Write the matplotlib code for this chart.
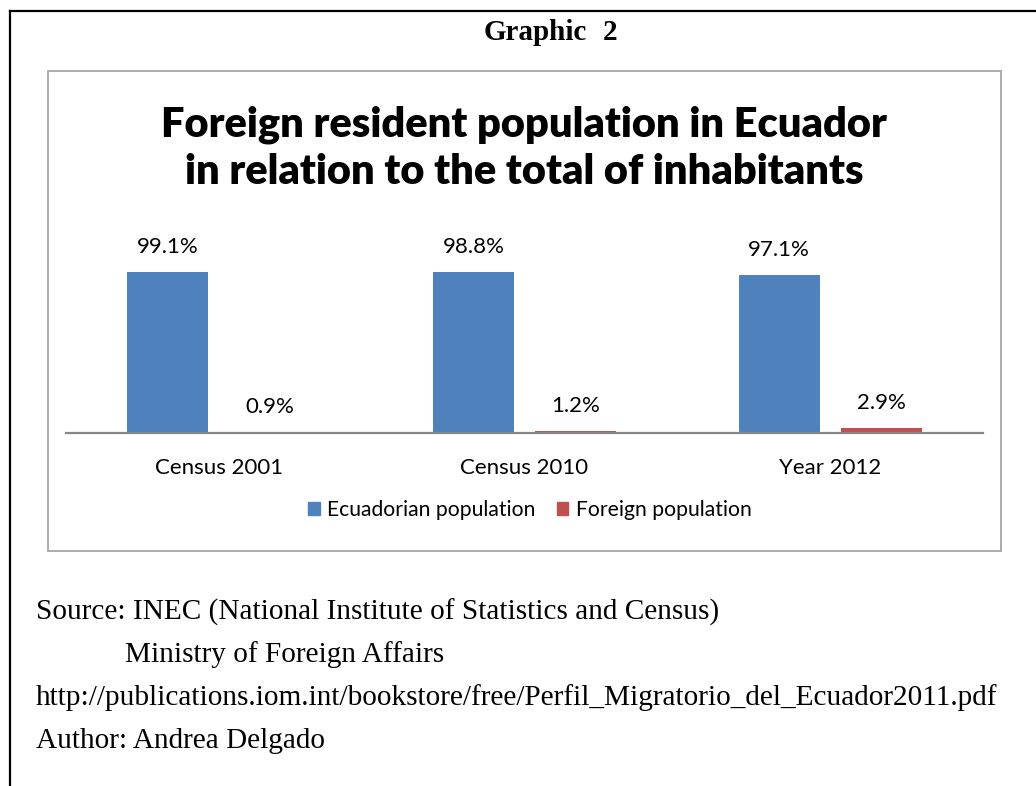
import matplotlib.pyplot as plt
from matplotlib.patches import Rectangle
from matplotlib.lines import Line2D
import numpy as np

# Data
categories = ['Census 2001', 'Census 2010', 'Year 2012']
ecuadorian = [99.1, 98.8, 97.1]
foreign = [0.9, 1.2, 2.9]
series_names = ['Ecuadorian population', 'Foreign population']
colors = ['#4F81BD', '#C0504D']

title = 'Foreign resident population in Ecuador\nin relation to the total of inhabitants'
source_lines = [
    'Source: INEC (National Institute of Statistics and Census)',
    'Ministry of Foreign Affairs',
    'http://publications.iom.int/bookstore/free/Perfil_Migratorio_del_Ecuador2011.pdf',
    'Author: Andrea Delgado',
]

W, H = 1036, 786
fig = plt.figure(figsize=(W / 100, H / 100), dpi=100)
fig.patch.set_facecolor('white')

sans = 'Lato'
serif = 'Liberation Serif'


def fx(px):
    return px / W


def fy(py):
    return 1 - py / H


# page border (left and top rule)
fig.add_artist(Line2D([fx(10), fx(10)], [fy(11), 0], color='black', lw=1.6))
fig.add_artist(Line2D([fx(10), 1], [fy(11), fy(11)], color='black', lw=1.6))

# chart frame
fig.add_artist(Rectangle((fx(48), fy(551)), fx(1001) - fx(48), fy(71) - fy(551),
                         fill=False, edgecolor='#a6a6a6', lw=1.3))

fig.text(fx(535), fy(33), 'Graphic', family=serif, weight='bold',
         fontsize=21, ha='center', va='center')
fig.text(fx(610), fy(33), '2', family=serif, weight='bold',
         fontsize=21, ha='center', va='center')

fig.text(fx(524), fy(148), title, family=sans, weight='heavy', fontsize=30,
         ha='center', va='center', linespacing=1.3)

# bars
x0, x1 = 66, 983
base = 433
px_per_unit = 161 / 99.1
ax_h = 200
ax = fig.add_axes([fx(x0), fy(base), fx(x1) - fx(x0), ax_h / H])
ax.set_xlim(0, 3)
ax.set_ylim(0, ax_h / px_per_unit)
ax.axis('off')

x = np.arange(len(categories)) + 0.5
bw = 0.265
off = 0.167
for vals, color, sign in [(ecuadorian, colors[0], -1), (foreign, colors[1], 1)]:
    bars = ax.bar(x + sign * off, vals, width=bw, color=color, clip_on=False)
    for b, v in zip(bars, vals):
        ax.annotate(f'{v:.1f}%', (b.get_x() + b.get_width() / 2, v),
                    xytext=(0, 18), textcoords='offset points',
                    ha='center', va='center', family=sans, fontsize=16)

ax.add_line(Line2D([0, 3], [0, 0], color='#868686', lw=1.6, clip_on=False))

for xi, cat in zip(x, categories):
    ax.annotate(cat, (xi, 0), xytext=(0, -25), textcoords='offset points',
                ha='center', va='center', family=sans, fontsize=16)

# legend
handles = [Rectangle((0, 0), 1, 1, color=c) for c in colors]
fig.legend(handles, series_names, loc='center', bbox_to_anchor=(fx(530), fy(510)),
           ncol=2, frameon=False, prop={'family': sans, 'size': 15.2},
           handlelength=0.55, handleheight=0.55, handletextpad=0.35, columnspacing=1.0)

# source notes
ys = [612, 655, 698, 741]
xs = [36, 125, 36, 36]
for sx, sy, line in zip(xs, ys, source_lines):
    fig.text(fx(sx), fy(sy), line, family=serif, fontsize=21.1, ha='left', va='center')

fig.savefig('out.png', dpi=100)
